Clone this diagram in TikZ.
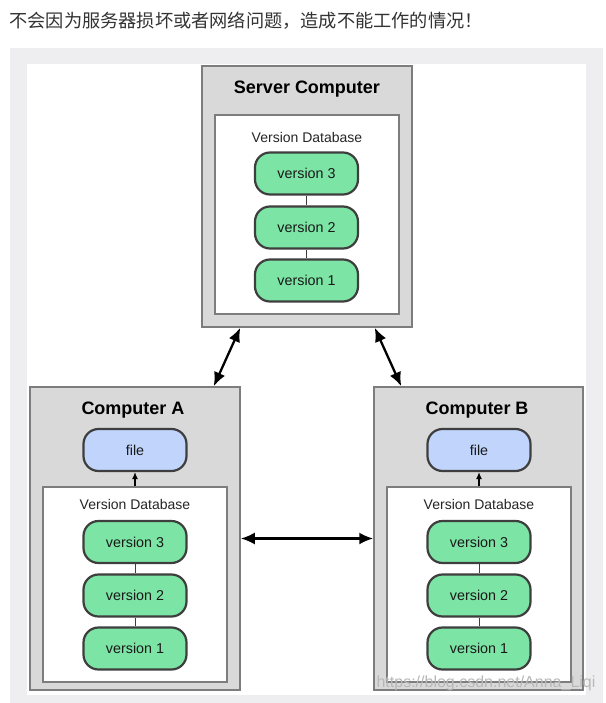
\documentclass[tikz,border=0pt]{standalone}
\usepackage{fontspec}
\usepackage{tikz}
\usetikzlibrary{arrows.meta}
\setmainfont{Liberation Sans}
\newfontfamily\cjk{Noto Sans CJK SC}
\definecolor{panelgray}{RGB}{238,238,240}
\definecolor{boxgray}{RGB}{217,217,217}
\definecolor{boxline}{RGB}{125,125,125}
\definecolor{pillline}{RGB}{62,62,62}
\definecolor{pillgreen}{RGB}{124,228,164}
\definecolor{fileblue}{RGB}{192,212,252}

\begin{document}
\begin{tikzpicture}
[x=1pt,y=-1pt,
 cbox/.style={draw=boxline,fill=boxgray,line width=1.5pt,inner sep=0pt,minimum width=210pt},
 db/.style={draw=boxline,fill=white,line width=1.2pt,inner sep=0pt,minimum width=184pt},
 ver/.style={draw=pillline,fill=pillgreen,line width=2.2pt,rounded corners=15pt,inner sep=0pt,
   minimum width=103pt,minimum height=42pt,font=\fontsize{14.3}{16}\selectfont,text=black!90},
 filepill/.style={ver,fill=fileblue},
 boxtitle/.style={font=\fontsize{18}{20}\selectfont\bfseries},
 dbtitle/.style={font=\fontsize{14}{16}\selectfont,text=black!85},
 sync/.style={{Latex[length=14pt,width=12pt]}-{Latex[length=14pt,width=12pt]},line width=2.3pt}]
\useasboundingbox (0,0) rectangle (605,703);
\fill[white] (0,0) rectangle (605,703);
\fill[panelgray] (10,48) rectangle (603,703);
\fill[white] (27,64) rectangle (586,695);

\node[anchor=west,font=\cjk\fontsize{18.2}{20}\selectfont,text=black!80] (head) at (6,21) {不会因为服务器损坏或者网络问题，造成不能工作的情况！};

% server
\node[cbox,minimum height=261pt] (srv) at (307,196.5) {};
\node[boxtitle] (srvt) at (307,89) {Server Computer};
\node[db,minimum height=199pt] (srvdb) at (307,214.5) {};
\node[dbtitle] (srvdbt) at (307,137) {Version Database};
\node[ver] (s3) at (306.5,173.5) {version 3};
\node[ver] (s2) at (306.5,227.5) {version 2};
\node[ver] (s1) at (306.5,280.5) {version 1};

% computer A
\node[cbox,minimum height=303pt] (ca) at (135,538.5) {};
\node[boxtitle] (cat) at (133,410) {Computer A};
\node[filepill] (fa) at (135,450) {file};
\node[db,minimum height=195pt] (dba) at (135,584.5) {};
\node[dbtitle] (dbat) at (135,504) {Version Database};
\node[ver] (a3) at (135,542) {version 3};
\node[ver] (a2) at (135,595.5) {version 2};
\node[ver] (a1) at (135,648.5) {version 1};

% computer B
\node[cbox,minimum width=209pt,minimum height=303pt] (cb) at (478.5,538.5) {};
\node[boxtitle] (cbt) at (477,410) {Computer B};
\node[filepill] (fb) at (479,450) {file};
\node[db,minimum height=195pt] (dbb) at (479,584.5) {};
\node[dbtitle] (dbbt) at (479,504) {Version Database};
\node[ver] (b3) at (479,542) {version 3};
\node[ver] (b2) at (479,595.5) {version 2};
\node[ver] (b1) at (479,648.5) {version 1};

\node[font=\fontsize{16}{18}\selectfont,text=white!72!black] (mark) at (486,683) {https://blog.csdn.net/Anna\_Liqi};

\foreach \from/\to in {s3/s2,s2/s1,a3/a2,a2/a1,b3/b2,b2/b1}
\draw[pillline,line width=1pt] (\from) -- (\to);

\foreach \from/\to in {dba/fa,dbb/fb}
\draw[-{Latex[length=7pt,width=6pt]},line width=1.2pt] (\from.north) -- (\to.south);

\draw[sync] ([xshift=39pt]srv.south west) -- ([xshift=-27pt]ca.north east);
\draw[sync] ([xshift=-38pt]srv.south east) -- ([xshift=28pt]cb.north west);
\draw[sync] (ca.east) -- (cb.west);
\end{tikzpicture}
\end{document}
